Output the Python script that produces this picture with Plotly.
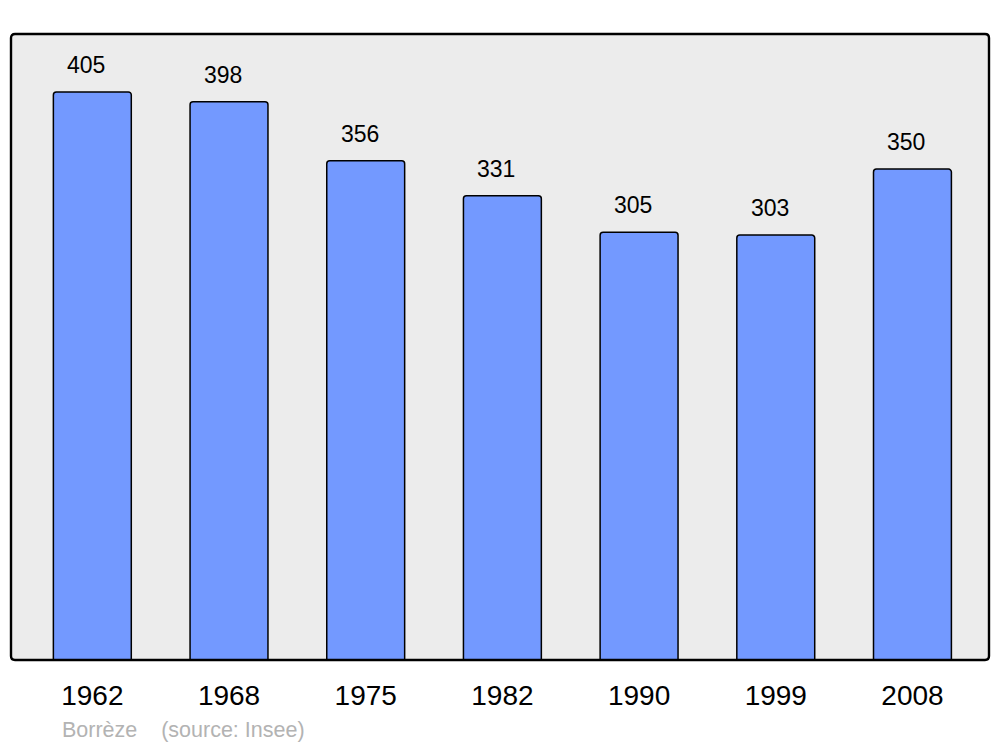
import plotly.graph_objects as go

years = ["1962", "1968", "1975", "1982", "1990", "1999", "2008"]
population = [405, 398, 356, 331, 305, 303, 350]
footer = "Borrèze\u00a0\u00a0\u00a0\u00a0(source: Insee)"

FONT = "Liberation Sans, Arial, sans-serif"

fig = go.Figure()
fig.add_trace(go.Bar(
    x=years, y=population,
    width=0.57,
    marker=dict(color="#7399ff", line=dict(color="black", width=1.5), cornerradius=3),
    hoverinfo="x+y",
))

for i, v in enumerate(population):
    fig.add_annotation(x=i, y=v, text=str(v), showarrow=False, yshift=27, xshift=-6,
                       font=dict(size=23, color="black", family=FONT))

fig.add_annotation(x=0.0505, y=-0.112, xref="paper", yref="paper", text=footer,
                   showarrow=False, xanchor="left", yanchor="middle",
                   font=dict(size=21.5, color="#b3b3b3", family=FONT))

rx, ry = 4 / 978, 4 / 626
border = (f"M {rx},0 L {1-rx},0 Q 1,0 1,{ry} L 1,{1-ry} Q 1,1 {1-rx},1 "
          f"L {rx},1 Q 0,1 0,{1-ry} L 0,{ry} Q 0,0 {rx},0 Z")
fig.add_shape(type="path", xref="paper", yref="paper", path=border,
              line=dict(color="black", width=2.4), layer="above")

fig.update_layout(
    width=1000, height=747,
    margin=dict(l=11, r=11, t=34, b=87),
    paper_bgcolor="white", plot_bgcolor="#ececec",
    font=dict(family=FONT, color="black"),
    showlegend=False,
    xaxis=dict(type="category", range=[-0.595, 6.56], showgrid=False, zeroline=False,
               ticks="outside", ticklen=10, tickcolor="rgba(0,0,0,0)",
               tickfont=dict(size=28, color="black")),
    yaxis=dict(range=[0, 446.3], showgrid=False, zeroline=False, showticklabels=False),
)

fig.write_html("out.html", config={"displayModeBar": False},
               post_script="document.body.style.margin='0';document.body.style.overflow='hidden';")
